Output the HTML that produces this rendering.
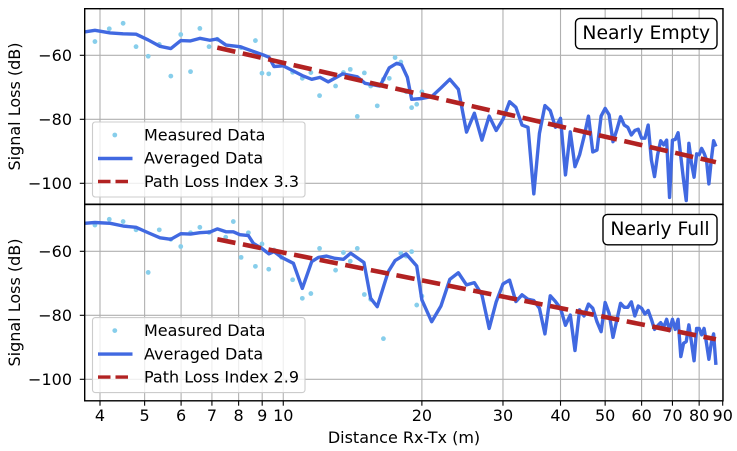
<!DOCTYPE html>
<html>
<head>
<meta charset="utf-8">
<style>
html,body{margin:0;padding:0;background:#fff;}
svg{display:block;}
text{font-family:"DejaVu Sans","Liberation Sans",sans-serif;fill:#000;}
</style>
</head>
<body>
<svg id="chart" xmlns="http://www.w3.org/2000/svg" width="737" height="451" viewBox="0 0 737 451">
  <defs>
    <clipPath id="clip-top"><rect x="84.7" y="8.7" width="638.3" height="195.5"/></clipPath>
    <clipPath id="clip-bottom"><rect x="84.7" y="204.5" width="638.3" height="196.3"/></clipPath>
  </defs>
  <rect width="737" height="451" fill="#fff"/>
  <g id="top-panel"></g>
  <g id="bottom-panel"></g>
  <text x="404" y="443" font-size="16" text-anchor="middle">Distance Rx-Tx (m)</text>
  <text transform="translate(20,106.5) rotate(-90)" font-size="16" text-anchor="middle">Signal Loss (dB)</text>
  <text transform="translate(20,302.5) rotate(-90)" font-size="16" text-anchor="middle">Signal Loss (dB)</text>
</svg>
<script>
const xTicks = [4, 5, 6, 7, 8, 9, 10, 20, 30, 40, 50, 60, 70, 80, 90];
const yTicks = [-60, -80, -100];

const avgDistanceTop = [3.70,3.90,4.21,4.49,4.79,5.09,5.40,5.70,5.99,6.29,6.59,6.93,7.19,7.51,8.05,8.54,9.05,9.31,9.55,10.0,10.52,11.06,11.53,12.02,12.52,13.46,14.48,15.05,16.22,16.99,17.63,18.07,18.6,19,20,21,22,23,24,25,26,27,28,29,30,31,32,33,34,35,36,37,38,39,40,41,42,43,44,45,46,47,48,49,50,51,52,53,54,55,56,57,58,59,60,61,62,63,64,65,66,67,68,69,70,71,72,73,74,75,76,77,78,79,80,81,82,83,84,85,86,87];
const avgLossTop = [-52.7,-52.2,-53.0,-53.3,-53.4,-55.2,-57.2,-57.9,-55.4,-55.5,-54.7,-55.3,-54.9,-56.8,-57.3,-58.6,-59.9,-60.6,-63.5,-63.3,-64.9,-66.5,-67.5,-66.9,-68.3,-65.8,-66.7,-68.75,-69.6,-63.9,-62.5,-63.0,-66.9,-73.75,-73.5,-72.9,-70.2,-67.5,-70.6,-84.0,-78.1,-86.5,-79.0,-83.5,-80.0,-74.5,-76.25,-81.8,-82.5,-103.3,-84.4,-75.7,-77.3,-82.5,-79.7,-97.4,-83.9,-94.8,-91.1,-85.4,-79.0,-90.2,-89.6,-79.0,-76.6,-78.6,-87.0,-83.3,-79.2,-81.8,-82.5,-84.9,-83.5,-83.1,-85.9,-85.9,-81.8,-92.7,-97.9,-91.1,-86.7,-88.0,-86.5,-104.4,-86.5,-86.3,-84.2,-91.7,-99.0,-105.4,-87.5,-93.75,-98.1,-90.8,-91.1,-89.1,-90.6,-92.7,-100.2,-92.7,-86.7,-88.5];
const measuredDistanceTop = [3.90,4.19,4.49,4.79,5.09,5.38,5.70,5.99,6.29,6.59,6.90,7.19,8.10,8.70,8.99,9.30,10.0,10.48,11.0,11.48,11.99,12.99,13.51,13.98,14.48,15.0,15.48,16.0,16.5,16.99,17.49,18.0,18.5,19.0,19.49,20.0];
const measuredLossTop = [-55.7,-51.7,-50.0,-57.3,-60.3,-56.6,-66.5,-53.5,-65.1,-51.6,-57.3,-55.0,-57.6,-55.4,-65.6,-65.8,-62.5,-65.3,-67.2,-65.4,-72.6,-69.6,-65.4,-64.4,-79.1,-65.5,-69.6,-75.8,-67.5,-67.2,-60.7,-62.1,-71.4,-76.35,-75.3,-71.4];
const fitDistanceTop = [7.19, 87];
const fitLossTop = [-57.6, -93.4];

const avgDistanceBottom = [3.70,3.90,4.21,4.49,4.79,5.09,5.40,5.70,5.99,6.29,6.59,6.93,7.19,7.51,7.79,8.05,8.40,8.61,8.98,9.31,9.55,9.92,10.52,11.0,11.53,11.92,12.42,12.95,13.51,14.01,14.97,15.48,16.0,16.9,17.49,18.48,19.49,20,21,22,23,24,25,26,27,28,29,30,31,32,33,34,35,36,37,38,39,40,41,42,43,44,45,46,47,48,49,50,51,52,53,54,55,56,57,58,59,60,61,62,63,64,65,66,67,68,69,70,71,72,73,74,75,76,77,78,79,80,81,82,83,84,85,86,87];
const avgLossBottom = [-51.25,-51.0,-51.25,-52.1,-52.5,-54.2,-55.8,-56.25,-54.5,-54.6,-54.2,-54.0,-53.0,-53.9,-53.9,-54.8,-55.1,-57.5,-59.1,-60.8,-60.1,-61.9,-63.75,-71.6,-63.2,-61.9,-61.5,-62.2,-62.5,-60.6,-63.5,-74.7,-77.3,-66.4,-62.9,-60.8,-64.6,-75.2,-82.0,-77.1,-68.75,-66.7,-70.5,-69.8,-73.6,-84.1,-75.8,-70.2,-69.0,-75.7,-73.6,-75.0,-75.4,-77.8,-85.8,-73.9,-75.7,-77.8,-83.1,-79.9,-91.0,-78.3,-80.2,-76.5,-77.8,-82.0,-85.1,-76.0,-79.4,-86.9,-81.5,-76.25,-77.5,-77.5,-75.8,-80.2,-77.1,-77.8,-79.6,-78.5,-81.25,-84.4,-83.3,-82.3,-83.75,-81.25,-84.8,-81.25,-84.4,-81.25,-92.9,-88.75,-88.2,-83.0,-88.5,-94.2,-84.1,-84.1,-86.1,-84.1,-88.75,-93.75,-88.75,-85.8,-95.5];
const measuredDistanceBottom = [3.90,4.19,4.49,4.79,5.09,5.38,5.70,5.99,6.29,6.59,6.90,7.50,7.79,8.10,8.40,8.70,8.99,9.30,9.55,9.92,10.48,11.0,11.48,11.99,12.99,13.51,13.98,14.48,15.0,15.48,16.5,18.0,18.48,19.0,19.49,20.0];
const measuredLossBottom = [-51.8,-50.0,-50.7,-53.3,-66.6,-53.3,-56.25,-58.5,-54.2,-52.5,-54.1,-55.6,-50.7,-61.9,-54.2,-64.7,-57.7,-65.6,-59.6,-61.9,-68.9,-74.7,-73.2,-59.1,-65.9,-60.4,-63.1,-59.1,-73.5,-75.0,-87.3,-60.6,-61.5,-60.1,-76.8,-74.0];
const fitDistanceBottom = [7.19, 87];
const fitLossBottom = [-56.25, -87.5];

const legendLabels = ["Measured Data", "Averaged Data"];
const NS = "http://www.w3.org/2000/svg";

function xScale(d) { return 100 + 200 * Math.log(d / 4); }
function yScaleTop(v) { return 55.3 + (-60 - v) * 3.2; }
function yScaleBottom(v) { return 251.3 + (-60 - v) * 3.2; }

function make(tag, attrs, parent) {
  const el = document.createElementNS(NS, tag);
  for (const k in attrs) el.setAttribute(k, attrs[k]);
  parent.appendChild(el);
  return el;
}

function polyPoints(ds, vs, yScale) {
  return ds.map((d, i) => xScale(d).toFixed(2) + "," + yScale(vs[i]).toFixed(2)).join(" ");
}

function drawPanel(cfg) {
  const g = document.getElementById(cfg.id);
  const left = 84.7, right = 723, top = cfg.top, bottom = cfg.bottom;

  xTicks.forEach(function (t) {
    if (t > 90) return;
    const gl = make("line", {x1: xScale(t), x2: xScale(t), y1: top, y2: bottom, stroke: "#b0b0b0", "stroke-width": 1.1}, g);
    
    
  });
  yTicks.forEach(function (t) {
    const yy = cfg.y(t);
    const gl = make("line", {x1: left, x2: right, y1: yy, y2: yy, stroke: "#b0b0b0", "stroke-width": 1.1}, g);
    
    
    const tk = make("line", {x1: left - 4.9, x2: left, y1: yy, y2: yy, stroke: "#000", "stroke-width": 1.1}, g);
    
    
    const lb = make("text", {x: 72, y: yy + 5.8, "font-size": 16, "text-anchor": "end"}, g);
    lb.textContent = "\u2212" + Math.abs(t);
    
    
  });

  const plot = make("g", {"clip-path": "url(#" + cfg.clip + ")"}, g);
  
  

  cfg.md.forEach(function (d, i) {
    const c = make("circle", {cx: xScale(d), cy: cfg.y(cfg.ml[i]), r: 2.4, fill: "#87ceeb"}, plot);
    
    
  });

  const avg = make("polyline", {points: polyPoints(cfg.ad, cfg.al, cfg.y), fill: "none", stroke: "#4169e1", "stroke-width": 3.4, "stroke-linejoin": "round"}, plot);
  
  

  const fit = make("polyline", {points: polyPoints(cfg.fd, cfg.fl, cfg.y), fill: "none", stroke: "#b22222", "stroke-width": 4.6, "stroke-dasharray": "18.5 7.6"}, plot);
  
  

  // legend
  const lg = make("g", {}, g);
  
  
  const ly = cfg.legendTop;
  make("rect", {x: 92.5, y: ly, width: 212.5, height: 75, rx: 2.8, fill: "#fff", "fill-opacity": 0.8, stroke: "#cccccc", "stroke-width": 1.1}, lg);
  const mk = make("circle", {cx: 114.8, cy: ly + 13, r: 2.4, fill: "#87ceeb"}, lg);
  
  
  const bl = make("line", {x1: 98, x2: 132.5, y1: ly + 36.5, y2: ly + 36.5, stroke: "#4169e1", "stroke-width": 3.4}, lg);
  
  
  const rl = make("line", {x1: 98, x2: 132.5, y1: ly + 59.5, y2: ly + 59.5, stroke: "#b22222", "stroke-width": 3.4, "stroke-dasharray": "12.5 5"}, lg);
  
  
  legendLabels.concat([cfg.fitLabel]).forEach(function (s, i) {
    const t = make("text", {x: 144, y: ly + 18.5 + i * 23.2, "font-size": 16}, lg);
    t.textContent = s;
    
    
  });

  // annotation box
  const ann = make("g", {}, g);
  
  
  make("rect", {x: cfg.annX, y: cfg.annY, width: 717 - cfg.annX, height: 30.4, rx: 4.5, fill: "#fff", stroke: "#000", "stroke-width": 1.4}, ann);
  const at = make("text", {x: (cfg.annX + 717) / 2, y: cfg.annY + 20.6, "font-size": 18.8, "text-anchor": "middle"}, ann);
  at.textContent = cfg.title;

  // frame
  const fr = make("rect", {x: left, y: top, width: right - left, height: bottom - top, fill: "none", stroke: "#000", "stroke-width": 1.4}, g);
  
  
}

drawPanel({id: "top-panel", clip: "clip-top", top: 8.7, bottom: 204.2, y: yScaleTop,
  ad: avgDistanceTop, al: avgLossTop, md: measuredDistanceTop, ml: measuredLossTop,
  fd: fitDistanceTop, fl: fitLossTop, fitLabel: "Path Loss Index 3.3",
  legendTop: 122, annX: 575.5, annY: 18.4, title: "Nearly Empty"});
drawPanel({id: "bottom-panel", clip: "clip-bottom", top: 204.5, bottom: 400.8, y: yScaleBottom,
  ad: avgDistanceBottom, al: avgLossBottom, md: measuredDistanceBottom, ml: measuredLossBottom,
  fd: fitDistanceBottom, fl: fitLossBottom, fitLabel: "Path Loss Index 2.9",
  legendTop: 317.6, annX: 603, annY: 214.4, title: "Nearly Full"});

const svgRoot = document.getElementById("chart");
xTicks.forEach(function (t) {
  const tk = make("line", {x1: xScale(t), x2: xScale(t), y1: 400.8, y2: 405.7, stroke: "#000", "stroke-width": 1.1}, svgRoot);
  
  
  const lb = make("text", {x: xScale(t), y: 421, "font-size": 16, "text-anchor": "middle"}, svgRoot);
  lb.textContent = String(t);
  
  
});
</script>
</body>
</html>
